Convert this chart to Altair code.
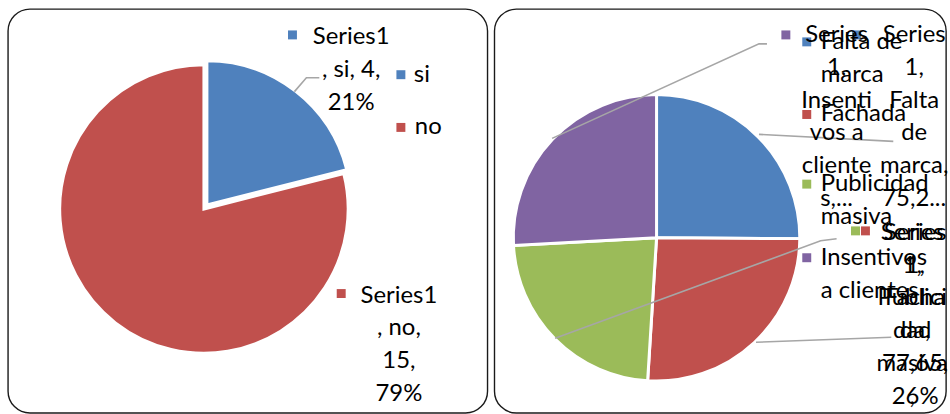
import altair as alt
import pandas as pd

# Does the business have its own brand?
answer_labels = ["si", "no"]
answer_counts = [4, 15]

# Factors reported by the businesses (Series 1)
factor_labels = ["Falta de marca", "Fachada", "Publicidad masiva", "Insentivos a clientes"]
factor_scores = [75.2, 77.65, 69.4, 77.5]

# Legend entries as they wrap in the narrow legend column
factor_legend_lines = [["Falta de", "marca"], ["Fachada"], ["Publicidad", "masiva"], ["Insentivos", "a clientes"]]

COLORS = ["#4F81BD", "#C0504D", "#9BBB59", "#8064A2"]
LEADER = "#A6A6A6"
FONT = "Lato"
FS = 24
LINE = 33

W1, H1 = 482, 406
W2, H2 = 454, 406


def num(v):
    s = f"{v:g}"
    return s.replace(".", ",")


def pct(v, total):
    return f"{round(100 * v / total)}%"


def pie(df, scale, cx, cy, r, shown):
    return alt.Chart(df).mark_arc(outerRadius=r, stroke="white", strokeWidth=3).encode(
        theta=alt.Theta("val:Q", stack=True),
        order=alt.Order("idx:Q"),
        color=alt.Color("cat:N", scale=scale, legend=None),
        opacity=alt.condition(alt.FieldOneOfPredicate(field="cat", oneOf=shown), alt.value(1), alt.value(0)),
        x=alt.value(cx),
        y=alt.value(cy),
    )


def texts(rows, align="center"):
    df = pd.DataFrame(rows, columns=["px", "py", "t"])
    return alt.Chart(df).mark_text(font=FONT, fontSize=FS, align=align, baseline="middle", color="black").encode(
        x=alt.X("px:Q", scale=None), y=alt.Y("py:Q", scale=None), text="t:N"
    )


def markers(rows, scale):
    df = pd.DataFrame(rows, columns=["px", "py", "cat"])
    return alt.Chart(df).mark_square(size=81, opacity=1).encode(
        x=alt.X("px:Q", scale=None),
        y=alt.Y("py:Q", scale=None),
        color=alt.Color("cat:N", scale=scale, legend=None),
    )


def leaders(paths):
    rows = []
    for g, pts in enumerate(paths):
        for k, (px, py) in enumerate(pts):
            rows.append({"g": g, "k": k, "px": px, "py": py})
    return alt.Chart(pd.DataFrame(rows)).mark_line(color=LEADER, strokeWidth=1.6).encode(
        x=alt.X("px:Q", scale=None), y=alt.Y("py:Q", scale=None), detail="g:N", order="k:Q"
    )


def block(lines, cx, y0):
    return [(cx, y0 + i * LINE, t) for i, t in enumerate(lines)]


# ---------- left panel: si / no ----------
left_df = pd.DataFrame({"cat": answer_labels, "val": answer_counts, "idx": range(len(answer_labels))})
total_l = sum(answer_counts)
scale_l = alt.Scale(domain=answer_labels, range=COLORS[:2])

si_cat, no_cat = answer_labels
si_val, no_val = answer_counts
si_lines = ["Series1", f", {si_cat}, {si_val},", pct(si_val, total_l)]
no_lines = ["Series1", f", {no_cat},", f"{no_val},", pct(no_val, total_l)]

left_text = block(si_lines, 345, 28) + block(no_lines, 393, 288)
left_legend_text = [(408, 66, si_cat), (409, 119, no_cat)]
left_keys = [(286, 26, si_cat), (335, 286, no_cat), (395, 66, si_cat), (395, 119, no_cat)]

left = alt.layer(
    pie(left_df, scale_l, 197, 201, 145, [no_cat]),
    pie(left_df, scale_l, 200, 197, 145, [si_cat]),
    leaders([[(288, 83), (300, 69), (313, 69)]]),
    markers(left_keys, scale_l),
    texts(left_legend_text, align="left"),
    texts(left_text),
).properties(width=W1, height=H1)

# ---------- right panel: factors ----------
right_df = pd.DataFrame({"cat": factor_labels, "val": factor_scores, "idx": range(len(factor_labels))})
total_r = sum(factor_scores)
scale_r = alt.Scale(domain=factor_labels, range=COLORS)

marca, fachada, publicidad, insentivos = factor_labels
v_marca, v_fachada, v_publicidad, v_insentivos = factor_scores

marca_lines = ["Series", "1,", "Falta", "de", "marca,", num(v_marca) + "..."]
fachada_lines = ["Series", "1,", "Facha", "da,", num(v_fachada) + ",", pct(v_fachada, total_r)]
publicidad_lines = ["Series", "1,", "Publici", "dad", "masiva", ","]
insentivos_lines = ["Series", "1,", "Insenti", "vos a", "cliente", "s,..."]

right_text = (
    block(insentivos_lines, 344, 26)
    + block(marca_lines, 422, 26)
    + block(fachada_lines, 423, 225)
    + block(publicidad_lines, 420, 225)
)

legend_rows_y = [33, 106, 176, 250]
right_legend_text = []
right_keys = []
for cat, lines, y in zip(factor_labels, factor_legend_lines, legend_rows_y):
    right_keys.append((314, y, cat))
    right_legend_text += [(328, y + i * LINE, t) for i, t in enumerate(lines)]
right_keys += [(293, 26, insentivos), (364, 26, marca), (373, 223, fachada), (363, 223, publicidad)]

right_leaders = [
    [(58, 130), (266, 35), (274, 35)],
    [(266, 126), (401, 133)],
    [(61, 331), (328, 233), (344, 231)],
    [(263, 335), (399, 330)],
]

right = alt.layer(
    pie(right_df, scale_r, 163, 230, 144, factor_labels),
    leaders(right_leaders),
    markers(right_keys, scale_r),
    texts(right_legend_text, align="left"),
    texts(right_text),
).properties(width=W2, height=H2)

chart = (
    alt.hconcat(left, right, spacing=5)
    .resolve_scale(color="independent", theta="independent")
    .properties(
        padding={"left": 7, "top": 7, "right": 0, "bottom": 0},
        background="white",
    )
    .configure_view(stroke="#1a1a1a", strokeWidth=1.4, cornerRadius=22)
)

chart.save("out.html", embed_options={"renderer": "svg", "actions": False})
